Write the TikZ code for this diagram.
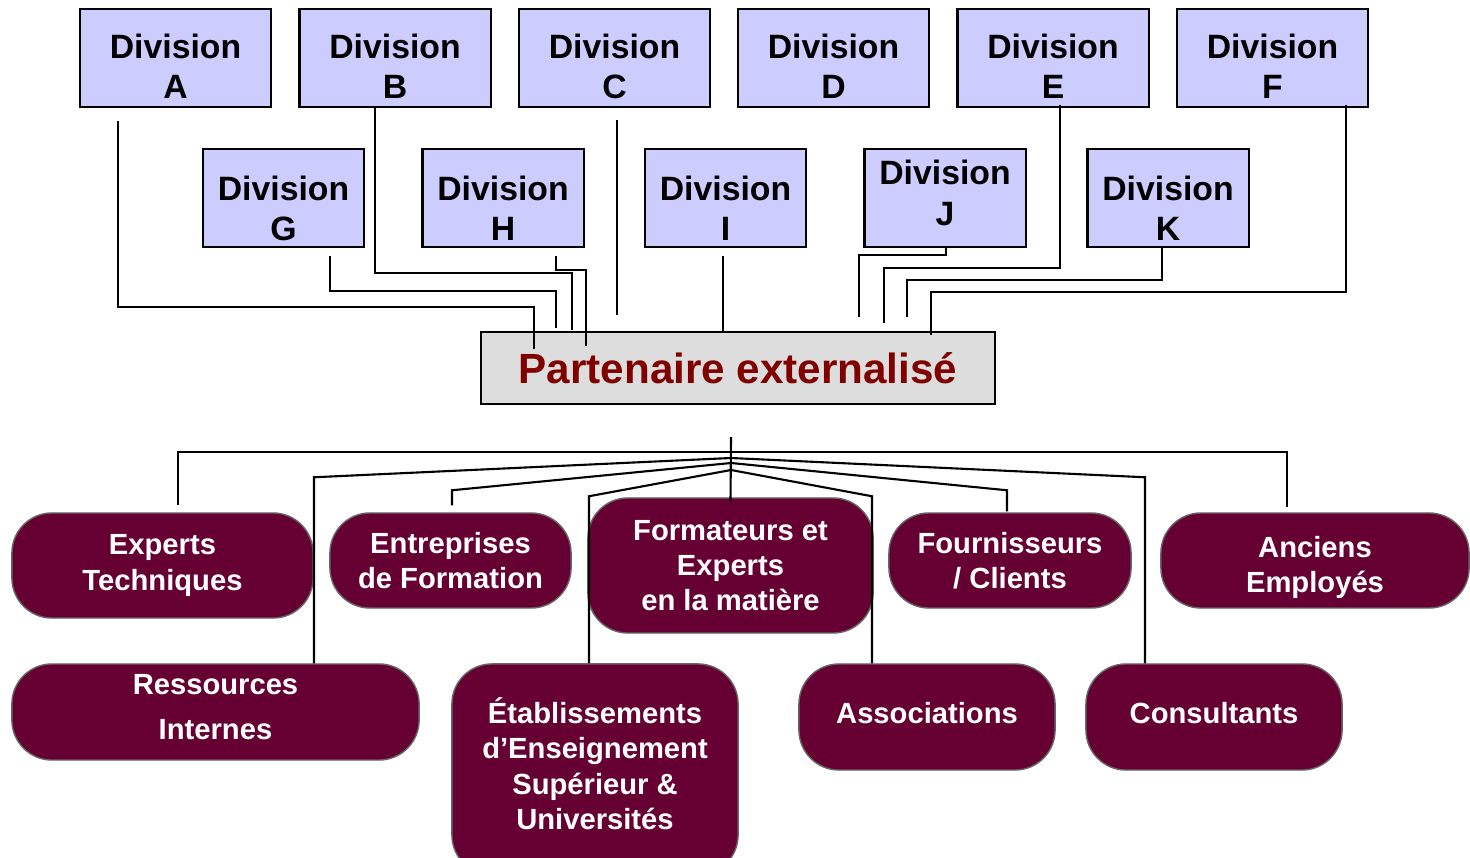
\documentclass[tikz,border=0pt]{standalone}
\usepackage{fontspec}
\setmainfont{Liberation Sans}
\usetikzlibrary{positioning}
\definecolor{divfill}{HTML}{CCCCFF}
\definecolor{partfill}{HTML}{DDDDDD}
\definecolor{parttext}{HTML}{800000}
\definecolor{resfill}{HTML}{660033}

\begin{document}
\begin{tikzpicture}[x=0.01cm,y=-0.01cm,
  division/.style={draw,fill=divfill,line width=0.6pt,minimum width=1.91cm,minimum height=0.98cm,
    inner sep=0pt,align=center,font=\fontsize{9.6}{11.4}\selectfont\bfseries,text height=0.81cm},
  divsmall/.style={division,minimum width=1.61cm,text height=0.85cm},
  partner/.style={draw,fill=partfill,line width=0.7pt,minimum width=5.14cm,minimum height=0.72cm,
    inner sep=0pt,text=parttext,font=\fontsize{12}{14}\selectfont\bfseries},
  resource/.style={draw=black!60,fill=resfill,rounded corners=0.4cm,inner sep=0pt,align=center,
    text=white,font=\fontsize{8.3}{10}\selectfont\bfseries},
  conn/.style={line width=0.6pt}]
\useasboundingbox (0,0) rectangle (1470,858);
% divisions
\node[division] (A) at (175.5,58) {Division\\A};
\node[division] (B) at (395,58) {Division\\B};
\node[division] (C) at (614.5,58) {Division\\C};
\node[division] (D) at (833.5,58) {Division\\D};
\node[division] (E) at (1053,58) {Division\\E};
\node[division] (F) at (1272.5,58) {Division\\F};
\node[divsmall] (G) at (283.5,198) {Division\\G};
\node[divsmall] (H) at (503,198) {Division\\H};
\node[divsmall] (I) at (725.5,198) {Division\\I};
\node[divsmall,text height=0.65cm,text depth=0.11cm] (J) at (945,198) {Division\\J};
\node[divsmall] (K) at (1168,198) {Division\\K};
\node[partner] (P) at (738,368) {Partenaire externalisé};
% resources
\node[resource,minimum width=3.01cm,minimum height=1.05cm] (expert) at (162.5,565.5) {Experts\\Techniques};
\node[resource,minimum width=2.41cm,minimum height=0.95cm] (entreprise) at (450.5,560.5) {Entreprises\\de Formation};
\node[resource,minimum width=2.85cm,minimum height=1.35cm] (formateur) at (730.5,565.5) {Formateurs et\\Experts\\en la matière};
\node[resource,minimum width=2.42cm,minimum height=0.95cm] (fournisseur) at (1010,560.5) {Fournisseurs\\/ Clients};
\node[resource,minimum width=3.08cm,minimum height=0.95cm,text height=0.7cm] (ancien) at (1315,560.5) {Anciens\\Employés};
\node[resource,minimum width=4.07cm,minimum height=0.96cm,text depth=0.1cm] (ressource) at (215.5,712) {Ressources\\[3pt]Internes};
\node[resource,minimum width=2.86cm,minimum height=2.11cm,text depth=0.12cm] (etablissement) at (595,769.5) {Établissements\\d’Enseignement\\Supérieur \&\\Universités};
\node[resource,minimum width=2.56cm,minimum height=1.06cm,text depth=0.08cm] (association) at (927,717) {Associations};
\node[resource,minimum width=2.56cm,minimum height=1.06cm,text depth=0.08cm] (consultant) at (1214,717) {Consultants};
% divisions to partner
\draw[conn] ([shift={(-57.5,13)}]A.south) |- ([shift={(-204,-24)}]P.north) -- ++(0,42);
\draw[conn] ([shift={(-20,0)}]B.south) |- ([shift={(-166,-58)}]P.north) -- ++(0,57);
\draw[conn] ([shift={(46.5,8)}]G.south) |- ([shift={(-182,-40)}]P.north) -- ++(0,37);
\draw[conn] ([shift={(53,8)}]H.south) |- ([shift={(-152,-61)}]P.north) -- ++(0,76);
\draw[conn] ([shift={(2.5,12)}]C.south) -- ([shift={(-121,-16)}]P.north);
\draw[conn] ([shift={(-2.5,8)}]I.south) -- ([shift={(-15,0)}]P.north);
\draw[conn] ([shift={(1,0)}]J.south) |- ([shift={(121,-76)}]P.north) -- ++(0,62);
\draw[conn] ([shift={(7,-3)}]E.south) |- ([shift={(146,-63)}]P.north) -- ++(0,55);
\draw[conn] ([shift={(-6,0)}]K.south) |- ([shift={(169,-51)}]P.north) -- ++(0,37);
\draw[conn] ([shift={(73.5,-3)}]F.south) |- ([shift={(193,-39)}]P.north) -- ++(0,43);
% partner to resources
\coordinate (hub) at (731,437);
\draw[conn] (hub) -- ([yshift=-0.04cm]formateur.north);
\draw[conn] ([shift={(0,15)}]hub) -| ([shift={(15.5,-7)}]expert.north);
\draw[conn] ([shift={(0,15)}]hub) -| ([shift={(-28,-5)}]ancien.north);
\draw[conn] ([shift={(0,21)}]hub) -- ([shift={(98.5,-186)}]ressource.north) -- ([shift={(98.5,0)}]ressource.north);
\draw[conn] ([shift={(0,21)}]hub) -- ([shift={(-69,-186)}]consultant.north) -- ([shift={(-69,0)}]consultant.north);
\draw[conn] ([shift={(0,26)}]hub) -- ([shift={(1.5,-22)}]entreprise.north) -- ([shift={(1.5,-7)}]entreprise.north);
\draw[conn] ([shift={(0,26)}]hub) -- ([shift={(-3,-22)}]fournisseur.north) -- ([shift={(-3,-1)}]fournisseur.north);
\draw[conn] ([shift={(0,33)}]hub) -- ([shift={(-6,-167)}]etablissement.north) -- (etablissement.north -| 589,0);
\draw[conn] ([shift={(0,33)}]hub) -- ([shift={(-55,-167)}]association.north) -- (association.north -| 872,0);
\end{tikzpicture}
\end{document}
